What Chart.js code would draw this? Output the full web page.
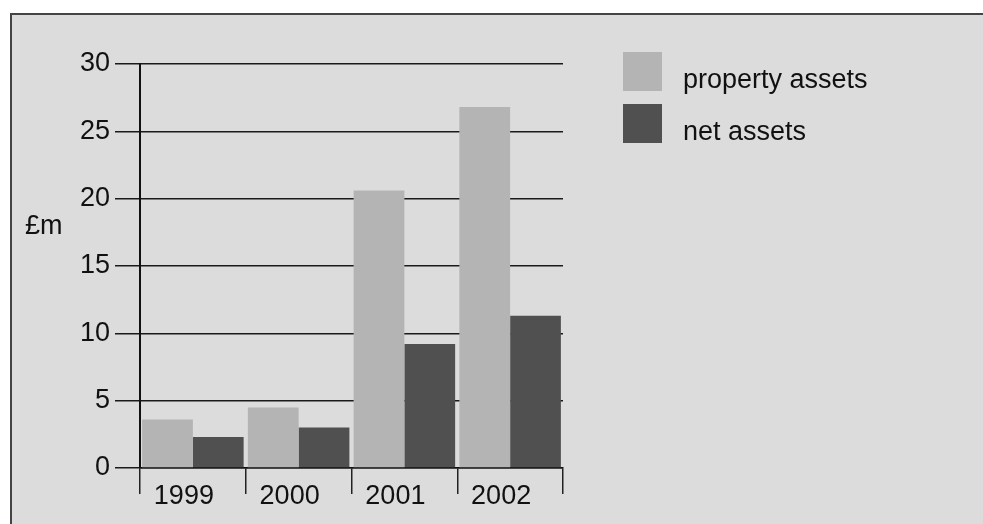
<!DOCTYPE html>
<html>
<head>
<meta charset="utf-8">
<script src="https://cdn.jsdelivr.net/npm/chart.js@4"></script>
<style>
  html, body { margin: 0; padding: 0; background: #fff; }
  #panel {
    position: absolute; left: 10px; top: 13px; right: 0; bottom: 0;
    background: #dcdcdc;
    border-left: 2px solid #444; border-top: 2px solid #444;
  }
  #wrap { position: absolute; left: 0; top: 0; width: 983px; height: 524px; }
</style>
</head>
<body>
<div id="panel"></div>
<div id="wrap"><canvas id="assetsChart"></canvas></div>
<script>
// £m by year
const years = ["1999", "2000", "2001", "2002"];
const propertyAssets = [3.6, 4.5, 20.6, 26.8];
const netAssets = [2.3, 3.0, 9.2, 11.3];
const seriesNames = ["property assets", "net assets"];
const seriesColours = ["#b4b4b4", "#505050"];
const unitLabel = "£m";

const FONT = "Liberation Sans, Arial, sans-serif";
const INK = "#111";

// key on the right plus the unit label next to the y axis
const sideKey = {
  id: "sideKey",
  afterDraw(chart) {
    const ctx = chart.ctx;
    ctx.save();
    ctx.font = "27px " + FONT;
    ctx.textAlign = "left";
    ctx.textBaseline = "alphabetic";
    chart.data.datasets.forEach((ds, i) => {
      const top = 52 + i * 52;
      ctx.fillStyle = ds.backgroundColor;
      ctx.fillRect(623, top, 39, 39);
      ctx.fillStyle = INK;
      ctx.fillText(ds.label, 683, top + 36);
    });
    ctx.fillText(unitLabel, 25, 234);
    ctx.restore();
  }
};

new Chart(document.getElementById("assetsChart"), {
  type: "bar",
  data: {
    labels: years,
    datasets: [
      { label: seriesNames[0], data: propertyAssets, backgroundColor: seriesColours[0] },
      { label: seriesNames[1], data: netAssets, backgroundColor: seriesColours[1] }
    ]
  },
  options: {
    responsive: true,
    maintainAspectRatio: false,
    animation: false,
    layout: { padding: { left: 0, top: 64, right: 420, bottom: 0 } },
    datasets: { bar: { categoryPercentage: 0.96, barPercentage: 1.0, borderWidth: 0 } },
    plugins: { legend: { display: false }, tooltip: { enabled: false } },
    scales: {
      x: {
        afterFit(scale) { scale.height = 56; },
        grid: {
          drawOnChartArea: false,
          drawTicks: true,
          tickLength: 26,
          color: "#222",
          lineWidth: 1.5
        },
        border: { display: true, color: "#111", width: 1.5 },
        ticks: {
          color: INK,
          font: { family: FONT, size: 27 },
          padding: -14,
          labelOffset: -9,
          maxRotation: 0
        }
      },
      y: {
        min: 0,
        max: 30,
        afterFit(scale) { scale.width = 140; },
        grid: {
          drawTicks: true,
          tickLength: 25,
          color: "#1a1a1a",
          lineWidth: 1.5
        },
        border: { display: true, color: "#111", width: 2 },
        ticks: {
          stepSize: 5,
          color: INK,
          font: { family: FONT, size: 27 },
          padding: 5
        }
      }
    }
  },
  plugins: [sideKey]
});
</script>
</body>
</html>
